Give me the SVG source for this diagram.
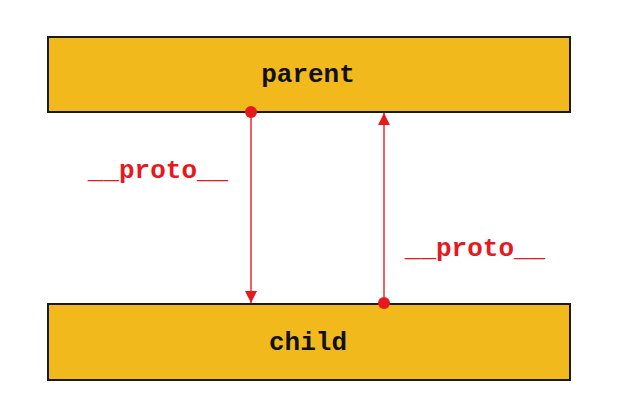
<svg xmlns="http://www.w3.org/2000/svg" width="624" height="400" viewBox="0 0 624 400">
<defs>
<style>
.box{fill:#F2B91C;stroke:#1a1a1a;stroke-width:2}
.name{font-family:"Liberation Mono","DejaVu Sans Mono",monospace;font-weight:bold;font-size:26px;fill:#111;text-anchor:middle}
.lbl{font-family:"Liberation Mono","DejaVu Sans Mono",monospace;font-weight:bold;font-size:26px;fill:#E5191E;text-anchor:middle}
.edge{stroke:#F06262;stroke-width:2;fill:none}
.dot{fill:#E5191E}
</style>
<marker id="ah" viewBox="0 0 12 12" refX="12" refY="6" markerWidth="12" markerHeight="12" markerUnits="userSpaceOnUse" orient="auto">
<path d="M0,0 L12,6 L0,12 Z" fill="#E5191E"/>
</marker>
</defs>
<rect width="624" height="400" fill="#ffffff"/>
<g id="parent">
<rect class="box" x="48" y="37" width="522" height="75"/>
<text class="name" x="308" y="82">parent</text>
</g>
<g id="child">
<rect class="box" x="48" y="304" width="522" height="76"/>
<text class="name" x="308" y="350">child</text>
</g>
<g id="connectors">
<line class="edge" x1="251" y1="112" x2="251" y2="303" marker-end="url(#ah)"/>
<circle class="dot" cx="251" cy="112" r="6"/>
<text class="lbl" x="158" y="178">__proto__</text>
<line class="edge" x1="384" y1="303" x2="384" y2="113" marker-end="url(#ah)"/>
<circle class="dot" cx="384" cy="303" r="6"/>
<text class="lbl" x="475" y="256">__proto__</text>
</g>
</svg>
